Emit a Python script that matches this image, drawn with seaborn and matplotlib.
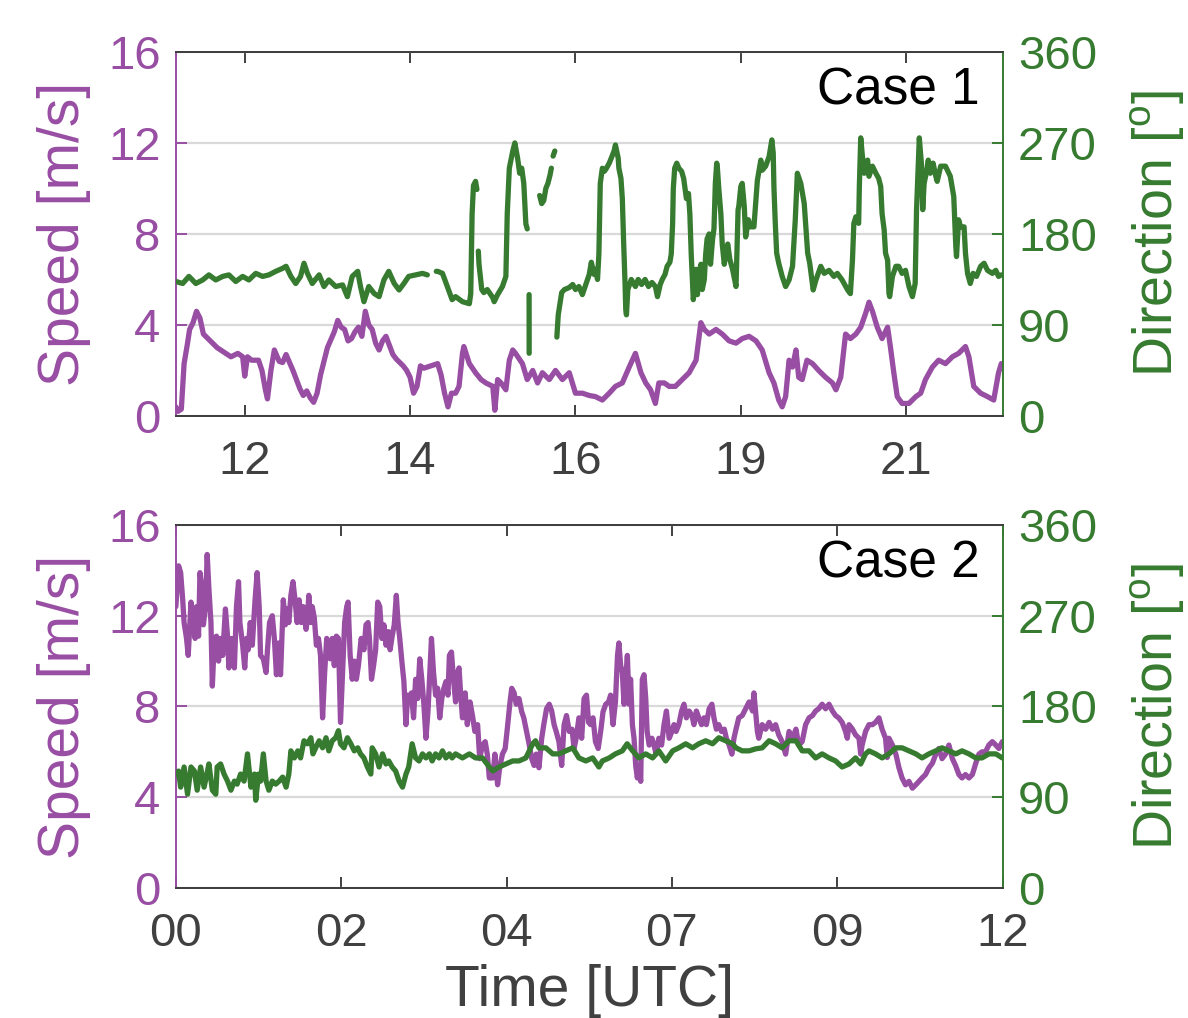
import numpy as np
import pandas as pd
import matplotlib
matplotlib.use("Agg")
import matplotlib.pyplot as plt
from matplotlib.ticker import FixedLocator, FuncFormatter
import seaborn as sns

PURPLE = "#984EA3"
GREEN = "#367B30"
GRAY = "#404040"

# ---- Case 1 (hours, UTC) ----
c1_speed_t = [11.0, 11.03, 11.08, 11.12, 11.17, 11.2, 11.25, 11.3, 11.35, 11.4, 11.5, 11.6, 11.7, 11.8, 11.9,
              11.97, 12.0, 12.04, 12.1, 12.2, 12.25, 12.3, 12.33, 12.38, 12.43, 12.5, 12.55, 12.6, 12.7, 12.8,
              12.85, 12.9, 12.95, 13.0, 13.05, 13.1, 13.2, 13.3, 13.35, 13.4, 13.45, 13.5, 13.55, 13.6, 13.65,
              13.7, 13.75, 13.8, 13.85, 13.9, 13.95, 14.0, 14.05, 14.1, 14.15, 14.2, 14.3, 14.35, 14.4, 14.45,
              14.5, 14.55, 14.6, 14.7, 14.8, 14.85, 14.9, 14.95, 15.0, 15.06, 15.11, 15.16, 15.18, 15.26, 15.35,
              15.43, 15.5, 15.6, 15.63, 15.67, 15.72, 15.79, 15.84, 15.89, 15.93, 16.03, 16.1, 16.18, 16.25,
              16.32, 16.42, 16.51, 16.61, 16.71, 16.8, 16.9, 17.0, 17.09, 17.19, 17.29, 17.38, 17.48, 17.58,
              17.67, 17.75, 17.82, 17.89, 17.96, 18.01, 18.09, 18.16, 18.25, 18.35, 18.45, 18.55, 18.62, 18.67,
              18.74, 18.84, 18.93, 19.03, 19.13, 19.22, 19.32, 19.42, 19.51, 19.61, 19.68, 19.75, 19.8, 19.85,
              19.9, 19.95, 20.0, 20.04, 20.09, 20.16, 20.24, 20.33, 20.43, 20.53, 20.58, 20.65, 20.72, 20.79,
              20.87, 20.94, 21.01, 21.06, 21.11, 21.18, 21.25, 21.33, 21.37, 21.42, 21.47, 21.54, 21.64, 21.74,
              21.81, 21.88, 21.98, 22.07, 22.17, 22.27, 22.36, 22.46, 22.51, 22.58, 22.68, 22.78, 22.87, 22.94,
              22.98]
c1_speed = [0.4, 0.2, 0.3, 2.3, 3.2, 3.8, 4.1, 4.6, 4.3, 3.6, 3.3, 3.0, 2.8, 2.6, 2.75,
            2.6, 1.75, 2.6, 2.45, 2.45, 2.0, 1.15, 0.75, 2.0, 2.9, 2.4, 2.35, 2.7, 2.0, 1.2,
            0.9, 1.1, 0.8, 0.6, 1.0, 1.8, 3.0, 3.7, 4.2, 3.9, 3.8, 3.3, 3.4, 3.7, 3.9,
            3.5, 4.6, 4.0, 3.8, 3.2, 2.9, 3.3, 3.5, 3.1, 2.7, 2.5, 2.2, 2.0, 1.7, 1.0,
            1.3, 2.2, 2.1, 2.2, 2.3, 1.8, 1.0, 0.4, 1.0, 1.0, 1.3, 2.75, 3.05, 2.3, 1.9,
            1.6, 1.45, 1.3, 0.25, 1.6, 1.45, 1.15, 2.45, 2.9, 2.75, 2.3, 1.6, 2.0, 1.45,
            1.9, 1.6, 2.0, 1.6, 1.9, 1.0, 1.0, 0.9, 0.85, 0.7, 1.0, 1.3, 1.45, 2.15,
            2.75, 1.9, 1.45, 1.15, 0.55, 1.45, 1.45, 1.3, 1.3, 1.6, 1.9, 2.45, 4.1, 3.8,
            3.6, 3.8, 3.6, 3.3, 3.2, 3.4, 3.5, 3.3, 2.9, 1.9, 1.45, 0.7, 0.4, 0.85,
            2.45, 2.15, 2.9, 1.7, 1.6, 2.45, 2.3, 2.0, 1.7, 1.45, 1.15, 1.7, 3.6, 3.4,
            3.6, 3.9, 4.5, 5.0, 4.6, 3.9, 3.4, 3.9, 3.05, 1.9, 0.85, 0.55, 0.55, 0.85,
            1.0, 1.6, 2.15, 2.45, 2.3, 2.6, 2.75, 3.05, 2.6, 1.3, 1.0, 0.85, 0.7, 1.9,
            2.3]

# direction, NaN marks a data gap
c1_dir_t = [11.0, 11.1, 11.19, 11.29, 11.39, 11.48, 11.58, 11.68, 11.77, 11.87, 11.97, 12.06, 12.16, 12.26,
            12.35, 12.45, 12.55, 12.6, 12.67, 12.74, 12.81, 12.86, 12.91, 12.98, 13.08, 13.15, 13.22, 13.32,
            13.42, 13.49, 13.56, 13.64, 13.68, 13.73, 13.8, 13.88, 13.95, 14.02, 14.09, 14.17, 14.24, 14.31,
            14.38, 14.48, 14.58, 14.65, np.nan,
            14.78, 14.8, 14.87, 14.94, 15.01, 15.06, 15.16, 15.26, 15.28, 15.3, 15.32, 15.35, 15.37, np.nan,
            15.39, 15.4, 15.44, 15.47, 15.52, 15.6, 15.62, 15.67, 15.74, 15.79, 15.81, 15.84, 15.89, 15.92,
            15.96, 15.99, 16.02, 16.05, 16.08, 16.1, np.nan,
            16.127, 16.128, np.nan,
            16.28, 16.31, 16.34, 16.37, 16.4, 16.43, 16.45, np.nan,
            16.475, 16.5, np.nan,
            16.53, 16.55, 16.6, 16.64, 16.71, 16.76, 16.8, 16.85, 16.9, 16.95, 17.0, 17.03, 17.07, 17.09,
            17.12, 17.14, 17.16, 17.19, 17.22, 17.25, 17.29, 17.32, 17.36, 17.38, 17.42, 17.43, 17.46, 17.48,
            17.5, 17.52, 17.53, 17.54, 17.56, 17.61, 17.67, 17.71, 17.76, 17.81, 17.86, 17.91, 17.96, 17.99,
            18.03, 18.06, 18.1, 18.13, 18.17, 18.19, 18.21, 18.22, 18.24, 18.27, 18.3, 18.34, 18.37, 18.39,
            18.41, 18.44, 18.46, 18.48, 18.5, 18.51, 18.53, 18.55, 18.57, 18.59, 18.62, 18.64, 18.67, 18.69,
            18.71, 18.74, 18.76, 18.79, 18.81, 18.83, 18.85, 18.86, 18.88, 18.91, 18.93, 18.96, 18.98, 19.01,
            19.04, 19.08, 19.11, 19.13, 19.15, 19.16, 19.17, 19.2, 19.22, 19.25, 19.27, 19.31, 19.34, 19.39,
            19.44, 19.49, 19.51, 19.56, 19.61, 19.65, 19.67, 19.68, 19.7, 19.72, 19.75, 19.8, 19.85, 19.9,
            19.95, 19.99, 20.02, 20.07, 20.12, 20.17, 20.2, 20.25, 20.29, 20.36, 20.41, 20.48, 20.55, 20.6,
            20.67, 20.75, 20.79, 20.82, 20.84, 20.87, 20.91, 20.92, 20.94, 20.96, 20.99, 21.04, 21.06, 21.11,
            21.16, 21.2, 21.23, 21.25, 21.28, 21.3, 21.33, 21.35, 21.36, 21.4, 21.45, 21.49, 21.54, 21.59,
            21.64, 21.69, 21.73, 21.75, 21.78, 21.79, 21.82, 21.84, 21.86, 21.89, 21.92, 21.95, 21.99, 22.03,
            22.05, 22.1, 22.17, 22.24, 22.29, 22.32, 22.33, 22.36, 22.39, 22.44, 22.46, 22.49, 22.53, 22.57,
            22.62, 22.68, 22.73, 22.78, 22.85, 22.9, 22.94, 22.98]
c1_dir = [133, 131, 138, 131, 134.5, 139.5, 134.5, 138, 139.5, 133, 138, 134.5, 141, 138,
          139.5, 143, 146, 148, 138, 131, 138, 151, 141, 131, 139.5, 128, 134.5, 128,
          129.6, 118, 138, 143, 128, 113, 128, 121, 118, 134.5, 143, 131, 124.6, 131,
          138, 139.5, 141, 139.5, np.nan,
          143, 143, 141, 128, 115, 118, 113, 111, 121, 200, 228, 232, 224, np.nan,
          163, 150, 125, 122, 125, 117, 113, 120, 128, 138, 200, 245, 262, 270,
          255, 240, 245, 230, 190, 185, np.nan,
          120, 62, np.nan,
          218, 210, 213, 225, 230, 238, 245, np.nan,
          257, 262, np.nan,
          78, 100, 122, 125, 127, 130, 125, 128, 120, 130, 140, 152, 140, 145,
          135, 160, 230, 245, 242, 245, 250, 255, 262, 268, 255, 245, 235, 215,
          170, 130, 105, 100, 125, 135, 128, 135, 130, 135, 128, 132, 128, 118,
          130, 135, 140, 148, 152, 160, 190, 225, 245, 250, 245, 242, 235, 225,
          215, 220, 200, 160, 130, 115, 125, 145, 120, 140, 150, 125, 135, 160,
          175, 180, 150, 175, 185, 230, 250, 245, 225, 200, 170, 150, 160, 170,
          155, 145, 135, 128, 177, 204, 207, 227, 230, 207, 177, 194, 187, 187,
          233, 253, 243, 247, 256.5, 273, 260, 227, 190.5, 161, 151, 138, 128, 134.5,
          148, 194, 240, 230, 210, 161, 151, 124.6, 134.5, 148, 141, 144, 138, 141,
          134.5, 124.6, 121, 154, 190.5, 197, 190.5, 227, 275, 260, 240, 253, 237, 247,
          240, 235, 227, 200, 184, 161, 154, 121, 118, 138, 148, 148, 141, 144,
          128, 118, 131, 204, 256.5, 275, 250, 204, 230, 240, 253, 240, 250, 237,
          232, 247, 247, 237, 217, 167.5, 157.6, 194, 187, 187, 161, 141, 131, 141,
          138, 148, 151, 144, 141, 144, 138, 139.5]

# ---- Case 2 (hours, UTC) ----
c2_speed_t = [0.0, 0.04, 0.07, 0.1, 0.12, 0.155, 0.18, 0.22, 0.25, 0.28, 0.3, 0.33, 0.35, 0.38, 0.4,
              0.43, 0.455, 0.48, 0.51, 0.53, 0.56, 0.59, 0.62, 0.65, 0.68, 0.72, 0.75, 0.77, 0.81, 0.85,
              0.88, 0.91, 0.93, 0.97, 1.0, 1.025, 1.05, 1.08, 1.11, 1.15, 1.18, 1.21, 1.23, 1.27, 1.31,
              1.33, 1.36, 1.4, 1.43, 1.46, 1.49, 1.52, 1.56, 1.59, 1.615, 1.64, 1.67, 1.7, 1.73, 1.76,
              1.79, 1.82, 1.85, 1.89, 1.91, 1.93, 1.96, 1.98, 2.01, 2.04, 2.07, 2.1, 2.13, 2.16, 2.19,
              2.21, 2.24, 2.27, 2.3, 2.33, 2.36, 2.39, 2.42, 2.45, 2.48, 2.5, 2.53, 2.56, 2.59, 2.62,
              2.65, 2.69, 2.73, 2.76, 2.79, 2.81, 2.84, 2.87, 2.9, 2.93, 2.96, 2.99, 3.02, 3.05, 3.085,
              3.11, 3.14, 3.17, 3.2, 3.225, 3.25, 3.28, 3.31, 3.34, 3.365, 3.39, 3.42, 3.45, 3.48, 3.51,
              3.54, 3.57, 3.6, 3.63, 3.66, 3.68, 3.71, 3.74, 3.77, 3.8, 3.83, 3.86, 3.89, 3.92, 3.95,
              3.97, 4.0, 4.03, 4.06, 4.09, 4.11, 4.135, 4.16, 4.2, 4.23, 4.27, 4.305, 4.34, 4.38, 4.41,
              4.45, 4.49, 4.52, 4.55, 4.6, 4.63, 4.67, 4.7, 4.74, 4.78, 4.81, 4.85, 4.875, 4.91, 4.94,
              4.98, 5.02, 5.05, 5.09, 5.13, 5.165, 5.2, 5.23, 5.27, 5.31, 5.34, 5.38, 5.42, 5.455, 5.49,
              5.52, 5.56, 5.6, 5.635, 5.67, 5.71, 5.75, 5.78, 5.81, 5.85, 5.89, 5.925, 5.96, 5.99, 6.02,
              6.055, 6.09, 6.13, 6.17, 6.2, 6.24, 6.28, 6.31, 6.345, 6.38, 6.41, 6.43, 6.456, 6.48, 6.505,
              6.53, 6.553, 6.578, 6.6, 6.626, 6.65, 6.674, 6.698, 6.72, 6.747, 6.77, 6.795, 6.82, 6.84, 6.87,
              6.91, 6.94, 6.97, 7.01, 7.05, 7.085, 7.12, 7.16, 7.2, 7.23, 7.26, 7.3, 7.34, 7.375, 7.41,
              7.45, 7.49, 7.52, 7.555, 7.59, 7.63, 7.665, 7.7, 7.74, 7.78, 7.81, 7.845, 7.88, 7.92, 7.96,
              7.99, 8.03, 8.07, 8.1, 8.13, 8.17, 8.22, 8.27, 8.32, 8.37, 8.39, 8.415, 8.44, 8.46, 8.51,
              8.56, 8.61, 8.66, 8.705, 8.75, 8.8, 8.85, 8.9, 8.95, 9.0, 9.04, 9.09, 9.14, 9.19, 9.24,
              9.285, 9.33, 9.38, 9.43, 9.48, 9.53, 9.575, 9.62, 9.67, 9.72, 9.745, 9.77, 9.82, 9.865, 9.915,
              9.94, 9.96, 10.01, 10.06, 10.11, 10.155, 10.205, 10.25, 10.3, 10.325, 10.35, 10.4, 10.45, 10.495, 10.54,
              10.59, 10.64, 10.69, 10.74, 10.785, 10.83, 10.88, 10.93, 10.98, 11.03, 11.075, 11.12, 11.17, 11.22, 11.27,
              11.316, 11.365, 11.41, 11.46, 11.51, 11.56, 11.61, 11.655, 11.7, 11.75, 11.8, 11.85, 11.9, 11.945, 11.995]
c2_speed = [12.4, 14.2, 13.9, 12.7, 11.7, 11.0, 10.25, 12.6, 11.7, 11.0, 12.4, 11.1, 13.9, 13.2, 11.6,
            12.4, 14.7, 13.2, 11.7, 8.9, 11.0, 11.1, 10.0, 11.0, 10.25, 12.3, 11.1, 9.7, 11.0, 9.7,
            12.4, 13.5, 11.7, 10.7, 9.7, 11.0, 10.5, 11.7, 10.7, 12.7, 13.9, 12.4, 10.25, 10.1, 9.5,
            10.5, 11.7, 12.0, 11.0, 9.4, 10.8, 9.4, 12.7, 11.6, 12.3, 11.7, 12.9, 13.5, 12.7, 11.7,
            12.7, 11.7, 12.4, 11.4, 11.9, 12.9, 11.7, 12.4, 11.9, 10.7, 11.0, 10.25, 7.5, 9.5, 11.0,
            10.8, 10.1, 11.0, 9.8, 11.1, 11.0, 7.3, 9.5, 11.7, 12.4, 12.6, 10.25, 9.2, 10.0, 9.2,
            9.8, 11.0, 10.5, 11.6, 11.7, 11.0, 9.2, 9.8, 10.5, 12.6, 12.4, 11.0, 11.6, 10.7, 11.3,
            10.5, 11.1, 11.6, 12.9, 11.7, 11.0, 10.0, 9.1, 7.2, 8.5, 8.35, 8.6, 7.5, 9.2, 8.35,
            10.1, 9.2, 8.1, 6.6, 7.8, 9.1, 11.0, 9.5, 8.5, 8.8, 7.5, 8.35, 8.8, 9.1, 8.5,
            10.25, 10.4, 9.2, 8.2, 9.5, 9.7, 8.5, 7.5, 8.6, 7.2, 8.2, 7.6, 6.9, 7.2, 5.7,
            6.3, 6.45, 5.9, 4.85, 4.85, 5.9, 4.55, 5.3, 5.9, 6.15, 7.0, 8.2, 8.8, 8.6, 8.1,
            8.35, 7.77, 7.5, 6.9, 6.3, 5.7, 5.4, 5.9, 5.3, 6.6, 7.2, 7.9, 8.1, 7.8, 7.2,
            6.9, 6.45, 5.4, 7.2, 7.6, 6.9, 7.0, 6.15, 6.6, 7.5, 6.6, 8.35, 8.5, 7.3, 7.2,
            7.5, 6.45, 6.15, 7.0, 7.77, 8.1, 8.2, 8.5, 7.2, 8.2, 10.25, 10.8, 9.8, 9.5, 8.1,
            9.2, 10.25, 8.1, 9.2, 7.2, 6.6, 5.4, 4.85, 5.4, 4.7, 9.2, 9.4, 8.35, 6.9, 6.3,
            6.6, 6.3, 5.9, 6.6, 6.3, 7.2, 7.8, 6.6, 6.9, 7.2, 6.9, 7.2, 7.8, 8.1, 7.5,
            7.8, 7.6, 7.2, 7.8, 7.5, 7.2, 7.5, 7.2, 7.9, 8.1, 7.5, 7.0, 7.2, 6.9, 7.0,
            6.6, 6.3, 5.9, 6.6, 7.0, 7.5, 7.6, 7.9, 8.2, 7.8, 8.6, 7.77, 6.9, 6.6, 7.2,
            7.0, 7.3, 7.0, 7.2, 6.75, 6.45, 5.9, 6.9, 6.6, 7.0, 6.3, 6.45, 7.2, 7.5, 7.6,
            7.8, 7.9, 8.1, 7.9, 8.1, 7.8, 7.6, 7.5, 7.3, 6.9, 6.6, 7.2, 7.0, 6.75, 6.6,
            5.9, 6.3, 6.9, 7.2, 7.2, 7.3, 7.5, 7.0, 6.6, 5.75, 6.6, 6.3, 5.9, 5.3, 4.85,
            4.55, 4.7, 4.4, 4.55, 4.7, 4.85, 5.0, 5.3, 5.5, 5.9, 6.15, 5.7, 5.9, 6.3, 5.7,
            5.4, 5.0, 4.85, 5.0, 4.85, 5.0, 5.5, 5.9, 6.0, 6.0, 6.3, 6.45, 6.3, 6.15, 6.45]

c2_dir_t = [0.0, 0.04, 0.07, 0.12, 0.17, 0.22, 0.27, 0.31, 0.36, 0.41, 0.46, 0.48, 0.53, 0.58, 0.6,
            0.65, 0.7, 0.75, 0.8, 0.85, 0.89, 0.94, 0.99, 1.04, 1.09, 1.14, 1.16, 1.2, 1.23, 1.27,
            1.31, 1.35, 1.4, 1.45, 1.5, 1.55, 1.6, 1.64, 1.67, 1.72, 1.77, 1.81, 1.86, 1.91, 1.96,
            1.99, 2.03, 2.08, 2.13, 2.18, 2.22, 2.27, 2.32, 2.36, 2.39, 2.44, 2.49, 2.54, 2.59, 2.64,
            2.68, 2.73, 2.78, 2.83, 2.85, 2.9, 2.95, 3.0, 3.05, 3.09, 3.14, 3.19, 3.24, 3.29, 3.34,
            3.38, 3.43, 3.48, 3.53, 3.58, 3.63, 3.68, 3.72, 3.77, 3.82, 3.87, 3.92, 3.97, 4.01, 4.06,
            4.16, 4.26, 4.35, 4.45, 4.55, 4.6, 4.69, 4.79, 4.89, 4.98, 5.08, 5.18, 5.22, 5.27, 5.37,
            5.47, 5.56, 5.66, 5.76, 5.85, 5.95, 6.05, 6.14, 6.19, 6.29, 6.38, 6.48, 6.55, 6.63, 6.72,
            6.82, 6.92, 7.01, 7.11, 7.21, 7.3, 7.4, 7.5, 7.59, 7.69, 7.79, 7.88, 7.98, 8.08, 8.13,
            8.22, 8.32, 8.415, 8.51, 8.61, 8.705, 8.8, 8.9, 9.0, 9.09, 9.19, 9.285, 9.38, 9.48, 9.575,
            9.67, 9.77, 9.865, 9.94, 10.01, 10.06, 10.155, 10.25, 10.35, 10.45, 10.54, 10.64, 10.74, 10.83, 10.93,
            11.03, 11.12, 11.22, 11.32, 11.41, 11.51, 11.61, 11.7, 11.8, 11.9, 11.995]
c2_dir = [113, 116, 100, 120, 93, 120, 116, 97, 120, 100, 116, 123, 97, 93, 120,
          123, 113, 106, 97, 106, 103, 113, 106, 133, 100, 113, 87, 113, 106, 133,
          106, 97, 106, 103, 106, 110, 100, 113, 136, 129, 136, 129, 146, 143, 149,
          133, 139, 146, 139, 149, 136, 146, 149, 156, 143, 139, 149, 143, 136, 139,
          133, 129, 120, 113, 139, 133, 120, 133, 123, 126, 120, 116, 106, 100, 113,
          120, 143, 129, 126, 133, 129, 133, 126, 133, 129, 136, 129, 133, 129, 133,
          129, 133, 129, 129, 120, 116, 120, 123, 126, 126, 129, 143, 146, 139, 139,
          133, 133, 136, 139, 129, 126, 129, 120, 126, 129, 133, 136, 143, 136, 129,
          133, 129, 136, 126, 136, 139, 143, 139, 143, 146, 143, 149, 146, 143, 139,
          136, 136, 138, 139, 146, 143, 139, 146, 146, 136, 136, 129, 133, 129, 126,
          120, 123, 129, 123, 133, 136, 133, 129, 133, 139, 139, 136, 133, 129, 133,
          136, 139, 136, 133, 136, 133, 129, 129, 133, 133, 129]

# tick positions (MATLAB datetick style) in hours
c1_ticks = [12.0, 14.4, 16.8, 19.2, 21.6]
c2_ticks = [0.0, 2.4, 4.8, 7.2, 9.6, 12.0]

sns.set_theme(style="white")
plt.rcParams["font.family"] = ["Liberation Sans", "DejaVu Sans"]
plt.rcParams["mathtext.fontset"] = "custom"
plt.rcParams["mathtext.rm"] = "Liberation Sans"

fig = plt.figure(figsize=(11.88, 10.18), dpi=100)
ax_top = fig.add_axes([0.148, 0.5914, 0.696, 0.3576])
ax_bot = fig.add_axes([0.148, 0.1277, 0.696, 0.3566])


def hour_label(x, pos):
    return f"{int(np.floor(x + 1e-6)) % 24:02d}"


def draw_panel(ax, sp_t, sp, d_t, d_v, ticks, xlim, case_text):
    ax2 = ax.twinx()
    sp_df = pd.DataFrame({"t": sp_t, "v": sp})
    sns.lineplot(data=sp_df, x="t", y="v", ax=ax, color=PURPLE, linewidth=3.8,
                 estimator=None, sort=False)

    d_df = pd.DataFrame({"t": d_t, "v": d_v})
    d_df["seg"] = d_df["v"].isna().cumsum()
    d_df = d_df.dropna()
    sns.lineplot(data=d_df, x="t", y="v", units="seg", ax=ax2, color=GREEN, linewidth=3.8,
                 estimator=None, sort=False)

    ax.set_xlim(*xlim)
    ax.set_ylim(0, 16)
    ax.set_yticks([0, 4, 8, 12, 16])
    ax2.set_ylim(0, 360)
    ax2.set_yticks([0, 90, 180, 270, 360])
    ax.xaxis.set_major_locator(FixedLocator(ticks))
    ax.xaxis.set_major_formatter(FuncFormatter(hour_label))

    ax.yaxis.grid(True, color="#d9d9d9", lw=1.6)
    ax.xaxis.grid(False)
    ax2.grid(False)

    for a in (ax, ax2):
        a.spines["top"].set_color(GRAY)
        a.spines["bottom"].set_color(GRAY)
        for s in a.spines.values():
            s.set_linewidth(1.4)
    ax.spines["left"].set_color(PURPLE)
    ax.spines["right"].set_visible(False)
    ax2.spines["left"].set_visible(False)
    ax2.spines["right"].set_color(GREEN)

    ax.tick_params(axis="y", colors=PURPLE, direction="in", length=8, width=1.4,
                   labelsize=34, pad=11, left=True)
    ax.tick_params(axis="x", colors=GRAY, direction="in", length=8, width=1.4,
                   labelsize=34, pad=17, top=True, bottom=True)
    ax2.tick_params(axis="y", colors=GREEN, direction="in", length=8, width=1.4,
                    labelsize=34, pad=11, right=True)

    ax.set_ylabel("Speed [m/s]", color=PURPLE, fontsize=41, labelpad=12)
    ax2.set_ylabel(r"Direction [$^{\mathrm{o}}$]", color=GREEN, fontsize=40, labelpad=22)
    ax.set_xlabel("")
    ax.text(0.972, 0.893, case_text, transform=ax.transAxes, ha="right", va="center",
            fontsize=37, color="black")
    return ax2


draw_panel(ax_top, c1_speed_t, c1_speed, c1_dir_t, c1_dir, c1_ticks, (11, 23), "Case 1")
draw_panel(ax_bot, c2_speed_t, c2_speed, c2_dir_t, c2_dir, c2_ticks, (0, 12), "Case 2")
ax_bot.set_xlabel("Time [UTC]", color=GRAY, fontsize=41, labelpad=6)

fig.savefig("out.png", dpi=100)
